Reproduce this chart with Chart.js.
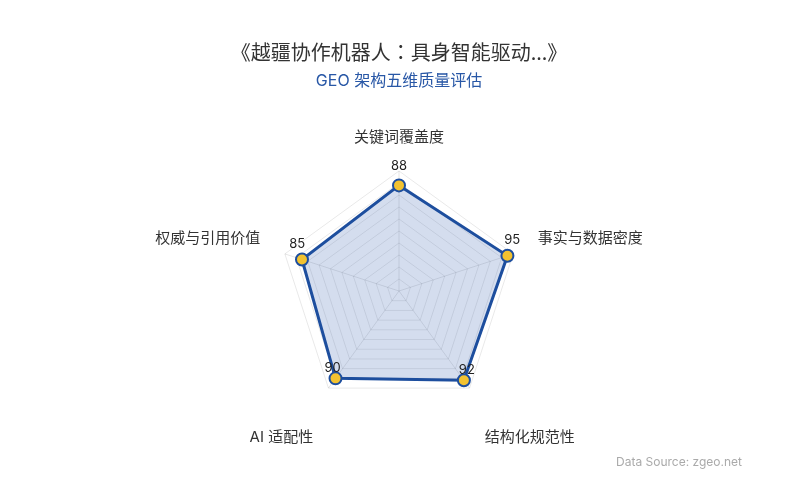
<!DOCTYPE html>
<html>
<head>
<meta charset="utf-8">
<script src="https://cdn.jsdelivr.net/npm/chart.js@4/dist/chart.umd.min.js"></script>
<style>
  html, body { margin: 0; padding: 0; background: #fff; }
  #wrap { width: 800px; height: 500px; position: relative; }
</style>
</head>
<body>
<div id="wrap"><canvas id="chart"></canvas></div>
<script>
const dimensions = ['关键词覆盖度', '事实与数据密度', '结构化规范性', 'AI 适配性', '权威与引用价值'];
const scores     = [88, 95, 92, 90, 85];

const fontFamily = 'Inter, "Noto Sans CJK SC", sans-serif';

// axis names, value labels and the source note
const extras = {
    id : 'extras',
    afterDatasetsDraw : ( chart ) => {
        let ctx   = chart.ctx;
        let scale = chart.scales.r;
        let meta  = chart.getDatasetMeta( 0 );
        let cx    = scale.xCenter,
            cy    = scale.yCenter;
        ctx.save();

        // axis names
        ctx.font      = '15px ' + fontFamily;
        ctx.fillStyle = '#333';
        dimensions.forEach( ( name, i ) => {
            let p  = scale.getPointPosition( i, scale.drawingArea + 26 );
            let dx = p.x - cx,
                dy = p.y - cy;
            ctx.textAlign = Math.abs( dx ) < 1 ? 'center' : ( dx > 0 ? 'left' : 'right' );
            if ( dy < 0 ) {
                ctx.textBaseline = 'bottom';
                ctx.fillText( name, p.x, p.y );
            } else {
                ctx.textBaseline = 'top';
                ctx.fillText( name, p.x, p.y + 21 );
            }
        } );

        // values
        ctx.font         = '13px ' + fontFamily;
        ctx.fillStyle    = '#222';
        ctx.textAlign    = 'center';
        ctx.textBaseline = 'middle';
        meta.data.forEach( ( pt, i ) => {
            let dx  = pt.x - cx,
                dy  = pt.y - cy;
            let len = Math.sqrt( dx * dx + dy * dy ) || 1;
            let ux  = dx / len,
                uy  = dy / len;
            ctx.fillText( scores[i], pt.x + 5 * ux, pt.y - ( 14 - 5 * uy ) );
        } );

        ctx.font         = '12px ' + fontFamily;
        ctx.fillStyle    = '#aaa';
        ctx.textAlign    = 'right';
        ctx.textBaseline = 'middle';
        ctx.fillText( 'Data Source: zgeo.net', 742, 462 );
        ctx.restore();
    }
};

let ctx = document.getElementById( 'chart' ).getContext( '2d' );
let chart = new Chart( ctx, {
    type : 'radar',
    data : {
        labels : dimensions,
        datasets : [{
            label : 'GEO',
            data : scores,
            backgroundColor : 'rgba(40,85,170,0.2)',
            borderColor : '#1d4e9e',
            borderWidth : 3,
            pointBackgroundColor : '#f2c230',
            pointBorderColor : '#1d4e9e',
            pointBorderWidth : 2,
            pointRadius : 6
        }]
    },
    options : {
        responsive : true,
        maintainAspectRatio : false,
        animation : false,
        layout : { padding : { top : 0, bottom : 88, left : 0, right : 2 } },
        plugins : {
            legend : { display : false },
            tooltip : { enabled : false },
            title : {
                display : true,
                text : '《越疆协作机器人：具身智能驱动...》',
                color : '#333',
                font : { size : 20, family : '"Noto Sans CJK TC", sans-serif', weight : 'normal' },
                padding : { top : 40, bottom : 8 }
            },
            subtitle : {
                display : true,
                text : 'GEO 架构五维质量评估',
                color : '#2857a6',
                font : { size : 16, family : fontFamily },
                padding : { top : 0, bottom : 80 }
            }
        },
        scales : {
            r : {
                min : 0,
                max : 100,
                ticks : { display : false, stepSize : 10 },
                grid : { color : 'rgba(0,0,0,0.09)' },
                angleLines : { color : 'rgba(0,0,0,0.1)' },
                pointLabels : { display : false }
            }
        }
    },
    plugins : [ extras ]
} );
</script>
</body>
</html>
